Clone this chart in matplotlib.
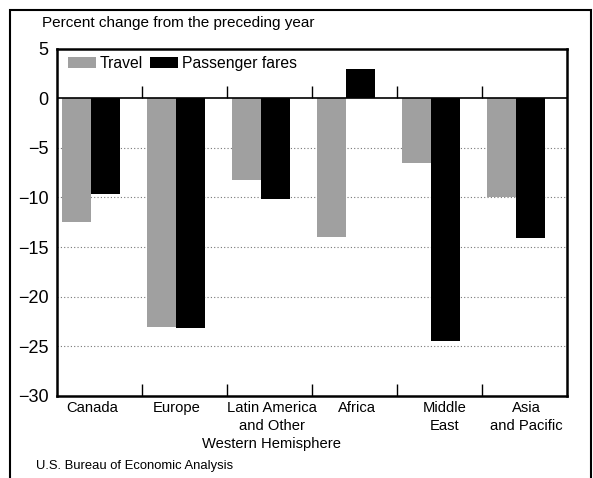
import matplotlib.pyplot as plt
import matplotlib.patches as mpatches
import numpy as np

plt.rcParams['font.family'] = ['Liberation Sans', 'DejaVu Sans']

regions = ["Canada", "Europe", "Latin America\nand Other\nWestern Hemisphere",
           "Africa", "Middle\nEast", "Asia\nand Pacific"]
travel = [-12.5, -23.1, -8.2, -14.0, -6.5, -10.0]
fares = [-9.6, -23.2, -10.2, 3.0, -24.5, -14.1]
yticks = [5, 0, -5, -10, -15, -20, -25, -30]

fig = plt.figure(figsize=(5.93, 4.78), dpi=100)

# outer frame
fig.patches.append(mpatches.Rectangle((0.017, -0.05), 0.98, 1.03, transform=fig.transFigure,
                                      fill=False, edgecolor='black', linewidth=1.5))

ax = fig.add_axes([0.096, 0.172, 0.86, 0.726])
x = np.arange(len(regions))
w = 0.34
ax.bar(x + 0.06, travel, width=w, align='edge', color='#a0a0a0', label='Travel', zorder=2)
ax.bar(x + 0.06 + w, fares, width=w, align='edge', color='black', label='Passenger fares', zorder=2)

ax.set_xlim(0, len(regions))
ax.set_ylim(-30, 5)
ax.set_yticks(yticks)
ax.set_yticklabels([str(v).replace('-', '\u2212') for v in yticks], fontsize=13)
ax.tick_params(axis='y', length=0, pad=6)

# group boundaries ticks on bottom axis and zero line
bounds = np.arange(1, len(regions))
ax.set_xticks(bounds)
ax.set_xticklabels([])
ax.tick_params(axis='x', which='major', direction='in', length=9, width=1)
label_off = [0.42, 0.41, 0.53, 0.53, 0.56, 0.52]
ax.set_xticks(x + np.array(label_off), minor=True)
ax.set_xticklabels(regions, minor=True, fontsize=10.6, linespacing=1.35)
ax.tick_params(axis='x', which='minor', length=0, pad=4)
ax.vlines(bounds, 0, 1.2, color='black', linewidth=1, zorder=3)

for v in yticks[2:-1]:
    ax.axhline(v, color='#777777', linestyle=(0, (1, 2)), linewidth=0.8, zorder=1)
ax.axhline(0, color='black', linewidth=1.2, zorder=3)

for s in ax.spines.values():
    s.set_linewidth(1.8)

ax.legend(loc='upper left', bbox_to_anchor=(0.0, 1.01), ncol=2, frameon=False,
          fontsize=11.3, handlelength=1.8, handleheight=0.7, handletextpad=0.25,
          columnspacing=0.4, borderaxespad=0.3)

fig.text(0.071, 0.952, "Percent change from the preceding year", fontsize=11, va='center')
fig.text(0.061, 0.025, "U.S. Bureau of Economic Analysis", fontsize=9.4, va='center')

fig.savefig("out.png", dpi=100)
